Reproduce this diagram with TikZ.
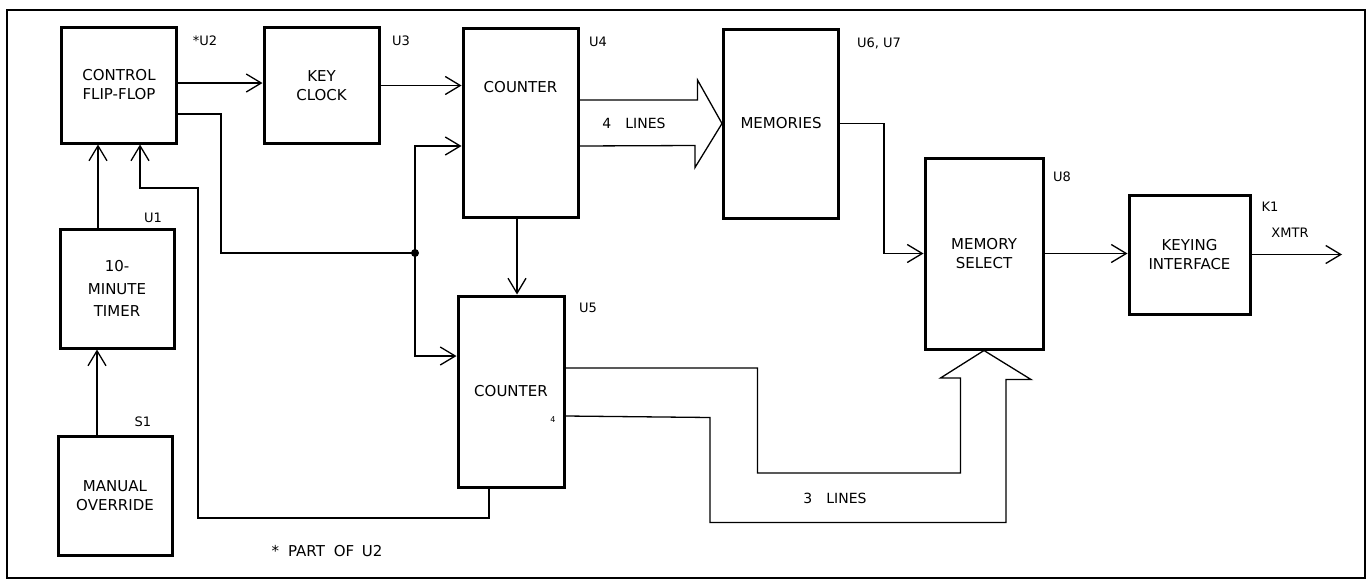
\documentclass[tikz,border=0pt]{standalone}
\usepackage{fontspec}
\setmainfont{DejaVu Sans}
\usetikzlibrary{arrows.meta,positioning,calc}

\begin{document}
\begin{tikzpicture}[
      x=1pt, y=-1pt,
      font=\fontsize{15}{19}\selectfont,
      box/.style={draw, line width=3pt, align=center, inner sep=0pt},
      sqbox/.style={box, minimum width=115pt, minimum height=116pt},
      tallbox/.style={box, minimum width=115pt, minimum height=189pt},
      tag/.style={font=\fontsize{13}{15}\selectfont},
      note/.style={font=\fontsize{14}{16}\selectfont},
      wire/.style={line width=1.3pt},
      >={Straight Barb[length=15pt,width=18pt]}]

    \useasboundingbox (0,0) rectangle (1371,581);
    \draw[line width=2.5pt] (7,10) rectangle (1365,578);

    % blocks
    \node[sqbox] (cff) at (119,85) {CONTROL\\FLIP-FLOP};
    \node[sqbox] (clk) at (321.5,85.5) {KEY\\CLOCK};
    \node[tallbox, label={[anchor=center, yshift=-61pt]north:COUNTER}]
      (cnt4) at (520.5,122.5) {};
    \node[tallbox] (mem) at (781,123.5) {MEMORIES};
    \node[tallbox, minimum width=118pt, minimum height=191pt]
      (msel) at (984,253.5) {MEMORY\\SELECT};
    \node[sqbox, minimum width=121pt, minimum height=119pt]
      (key) at (1189.5,254.5) {KEYING\\INTERFACE};
    \node[sqbox, minimum width=114pt, minimum height=119pt,
          font=\fontsize{15}{22.5}\selectfont]
      (tmr) at (117,288.5) {10-\\MINUTE\\TIMER};
    \node[sqbox, minimum width=114pt, minimum height=119pt]
      (man) at (115,495.5) {MANUAL\\OVERRIDE};
    \node[tallbox, minimum width=106pt, minimum height=191pt]
      (cnt5) at (511,391.5) {COUNTER};

    % designators
    \node[tag] (u2) at (205,41) {*U2};
    \node[tag] (u3) at (401,41) {U3};
    \node[tag] (u4) at (598,42) {U4};
    \node[tag] (u67) at (879,43) {U6, U7};
    \node[tag] (u1) at (153,218) {U1};
    \node[tag] (s1) at (143,422) {S1};
    \node[tag] (u5) at (588,308) {U5};
    \node[tag] (u8) at (1062,177) {U8};
    \node[tag] (k1) at (1270,207) {K1};
    \node[tag] (xm) at (1290,233) {XMTR};
    \node[font=\fontsize{8}{9}\selectfont] (pin4) at (553,420) {4};
    \node[font=\fontsize{15}{17}\selectfont] (part) at (327,551)
      {*\hspace{0.6em}PART\hspace{0.6em}OF\hspace{0.5em}U2};
    \node[note] (l4) at (634,123) {4\hspace{1em}LINES};
    \node[note] (l3) at (835,498) {3\hspace{1em}LINES};

    \coordinate (jn) at (415,253);
    \coordinate (bend) at (221,253);
    \coordinate (fbl) at (198,518);
    \coordinate (fbu) at (198,188);
    \coordinate (out) at (1342,254.5);

    % control paths
    \draw[wire, ->] ([yshift=2pt]cff.east) -- ([yshift=2pt]cff.east -| clk.west);
    \draw[wire, ->] (clk.east) -- (clk.east -| cnt4.west);
    \draw[wire] ([yshift=-29pt]cff.east) -| (bend) -- (jn);
    \draw[wire, ->] (jn) |- ([yshift=-23.5pt]cnt4.west);
    \draw[wire, ->] (jn) |- ([yshift=35.5pt]cnt5.west);
    \fill (jn) circle (4pt);
    \draw[wire, ->] ([xshift=-19pt]tmr.north) -- ([xshift=-19pt]tmr.north |- cff.south);
    \draw[wire, ->] ([xshift=-18pt]man.north) -- ([xshift=-18pt]man.north |- tmr.south);
    \draw[wire, ->] ([xshift=-22pt]cnt5.south) |- (fbl) -- (fbu)
      -| ([xshift=21pt]cff.south);
    \draw[wire, ->] ([xshift=-3.5pt]cnt4.south) -- ([xshift=-3.5pt]cnt4.south |- cnt5.north);

    % buses
    \draw[wire, line join=miter] ([yshift=22.5pt]cnt4.east) -- ++(118,0) -- ++(0,-20)
      -- (mem.west) -- ++(-27,44) -- ++(0,-22) -- ([yshift=-23.5pt]cnt4.east);
    \draw[wire, line join=miter] ([yshift=23.5pt]cnt5.east) -- ++(192,0) -- ++(0,105)
      -- ++(203,0) -- ++(0,-95) -- ++(-20,0) -- (msel.south) -- ++(47,29)
      -- ++(-25,0) -- ++(0,143) -- ++(-296,0) -- ++(0,-105)
      -- ([yshift=-24.5pt]cnt5.east);

    % output side
    \draw[wire, ->] (mem.east) -- ++(44,0) |- (msel.west);
    \draw[wire, ->] (msel.east) -- (msel.east -| key.west);
    \draw[wire, ->] (key.east) -- (out);
\end{tikzpicture}
\end{document}
